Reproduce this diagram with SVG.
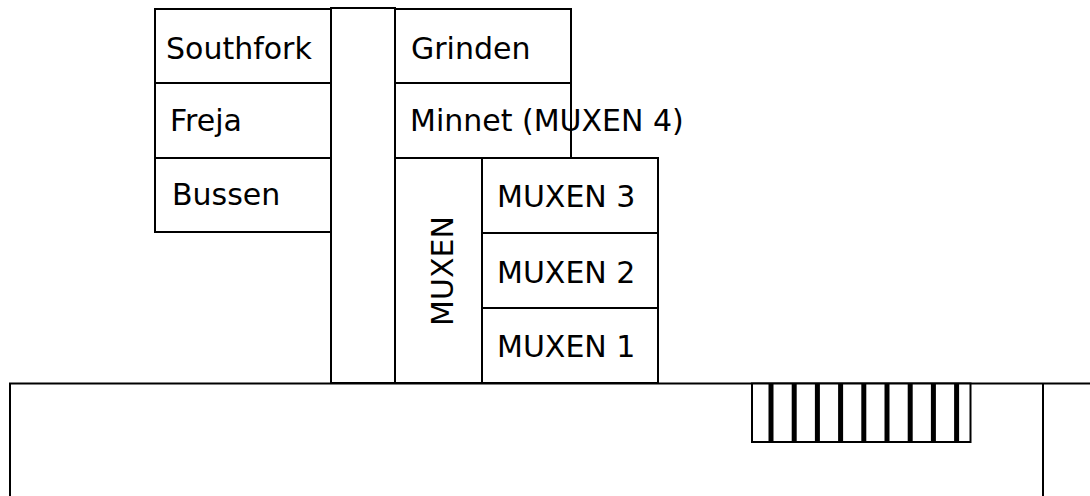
<svg xmlns="http://www.w3.org/2000/svg" width="1090" height="496" viewBox="0 0 1090 496">
<style>
.b{fill:#fff;stroke:#000;stroke-width:2}
.t{font-family:"DejaVu Sans",Verdana,sans-serif;font-size:30px;fill:#000}
.l{stroke:#000;stroke-width:2;fill:none}
.bar{fill:#000}
</style>
<rect width="1090" height="496" fill="#fff"/>
<g id="column"><rect class="b" x="331" y="8" width="64" height="375"/></g>
<g id="southfork"><rect class="b" x="155" y="9" width="176" height="74"/><text class="t" x="166" y="59">Southfork</text></g>
<g id="freja"><rect class="b" x="155" y="83" width="176" height="75"/><text class="t" x="170" y="131">Freja</text></g>
<g id="bussen"><rect class="b" x="155" y="158" width="176" height="74"/><text class="t" x="172" y="205">Bussen</text></g>
<g id="grinden"><rect class="b" x="395" y="9" width="176" height="74"/><text class="t" x="411" y="59">Grinden</text></g>
<g id="minnet"><rect class="b" x="395" y="83" width="176" height="75"/><text class="t" x="410" y="131">Minnet (MUXEN 4)</text></g>
<g id="muxen"><rect class="b" x="395" y="158" width="87" height="225"/><text class="t" text-anchor="middle" transform="translate(453,271) rotate(-90)">MUXEN</text></g>
<g id="muxen3"><rect class="b" x="482" y="158" width="176" height="75"/><text class="t" x="497" y="207">MUXEN 3</text></g>
<g id="muxen2"><rect class="b" x="482" y="233" width="176" height="75"/><text class="t" x="497" y="283">MUXEN 2</text></g>
<g id="muxen1"><rect class="b" x="482" y="308" width="176" height="75"/><text class="t" x="497" y="357">MUXEN 1</text></g>
<g id="base">
<path class="l" d="M10,497 V383.5 H1090 M1043,383.5 V497"/>
</g>
<g id="grill">
<rect class="b" x="752" y="383.5" width="218.5" height="58.5"/>
<rect class="bar" x="768.5" y="383" width="5" height="59"/>
<rect class="bar" x="791.7" y="383" width="5" height="59"/>
<rect class="bar" x="814.9" y="383" width="5" height="59"/>
<rect class="bar" x="838.1" y="383" width="5" height="59"/>
<rect class="bar" x="861.3" y="383" width="5" height="59"/>
<rect class="bar" x="884.5" y="383" width="5" height="59"/>
<rect class="bar" x="907.7" y="383" width="5" height="59"/>
<rect class="bar" x="930.9" y="383" width="5" height="59"/>
<rect class="bar" x="954.1" y="383" width="5" height="59"/>
</g>
<g id="connectors"></g>
</svg>
